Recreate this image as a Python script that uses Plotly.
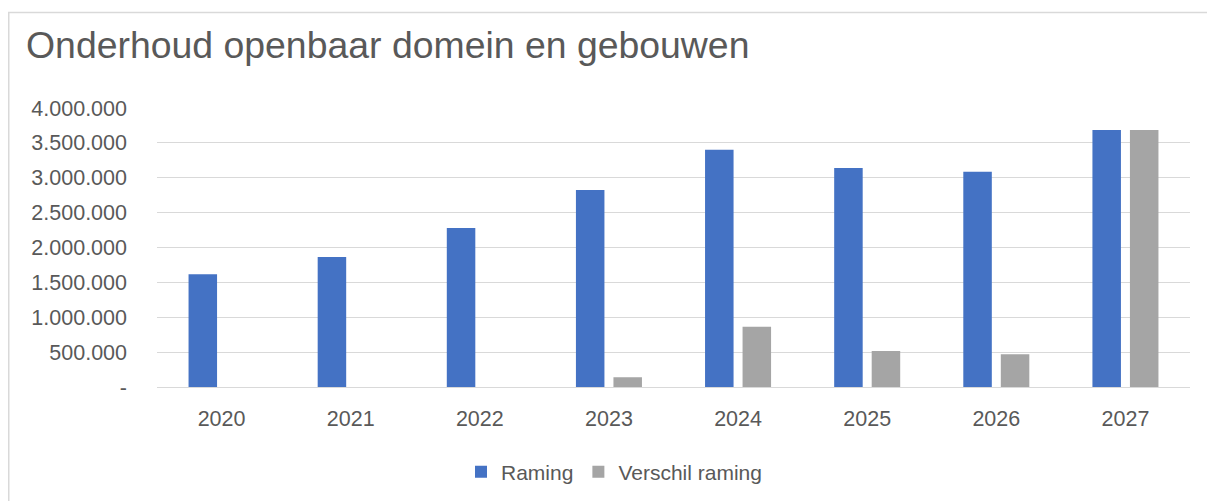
import plotly.graph_objects as go

years = ["2020", "2021", "2022", "2023", "2024", "2025", "2026", "2027"]
raming = [1615000, 1865000, 2280000, 2825000, 3400000, 3140000, 3085000, 3685000]
verschil = [0, 0, 0, 140000, 865000, 515000, 470000, 3685000]
tick_vals = [0, 500000, 1000000, 1500000, 2000000, 2500000, 3000000, 3500000, 4000000]
tick_text = ["-", "500.000", "1.000.000", "1.500.000", "2.000.000", "2.500.000",
             "3.000.000", "3.500.000", "4.000.000"]

FONT = "Liberation Sans, Arial, sans-serif"
TXT = "#595959"

fig = go.Figure()
fig.add_trace(go.Bar(x=years, y=raming, name="Raming", marker_color="#4472C4",
                     marker_line_width=0))
fig.add_trace(go.Bar(x=years, y=verschil, name="Verschil raming", marker_color="#A5A5A5",
                     marker_line_width=0))

# page has an 8px body margin; coordinates below are relative to the figure
W, H = 1207, 493
ml, mt = 149, 100
pw, ph = 1033, 279
mr, mb = W - ml - pw, H - mt - ph

def px(x):
    return (x - ml) / pw

def py(y):
    return 1 - (y - mt) / ph

fig.update_layout(
    width=W, height=H,
    margin=dict(l=ml, r=mr, t=mt, b=mb, autoexpand=False),
    paper_bgcolor="white", plot_bgcolor="white",
    font=dict(family=FONT, color=TXT, size=21),
    title=dict(text="Onderhoud openbaar domein en gebouwen", x=18 / W, xref="container",
               xanchor="left", y=1 - 37 / H, yref="container", yanchor="middle",
               font=dict(size=37.4, color=TXT, family=FONT)),
    barmode="group", bargap=0.419, bargroupgap=0.24,
    showlegend=True,
    legend=dict(orientation="h", x=px(606), xanchor="center", y=py(464), yanchor="middle",
                font=dict(size=21, color=TXT), itemwidth=30, traceorder="normal"),
    xaxis=dict(showgrid=False, showline=False, ticks="", tickfont=dict(size=21.5, color=TXT),
               ticklabelstandoff=16),
    yaxis=dict(range=[0, 4000000], tickvals=tick_vals, ticktext=tick_text,
               showgrid=True, gridcolor="#D9D9D9", gridwidth=1.3, zeroline=True,
               zerolinecolor="#D9D9D9", zerolinewidth=1.3, showline=False, ticks="",
               ticklabelstandoff=29, tickfont=dict(size=21.5, color=TXT)),
    shapes=[dict(type="rect", xref="paper", yref="paper",
                 x0=px(0.75), x1=px(1300), y0=py(600), y1=py(4.5),
                 line=dict(color="#D9D9D9", width=1.5), fillcolor="rgba(0,0,0,0)",
                 layer="below")],
)

fig.write_html("out.html")
